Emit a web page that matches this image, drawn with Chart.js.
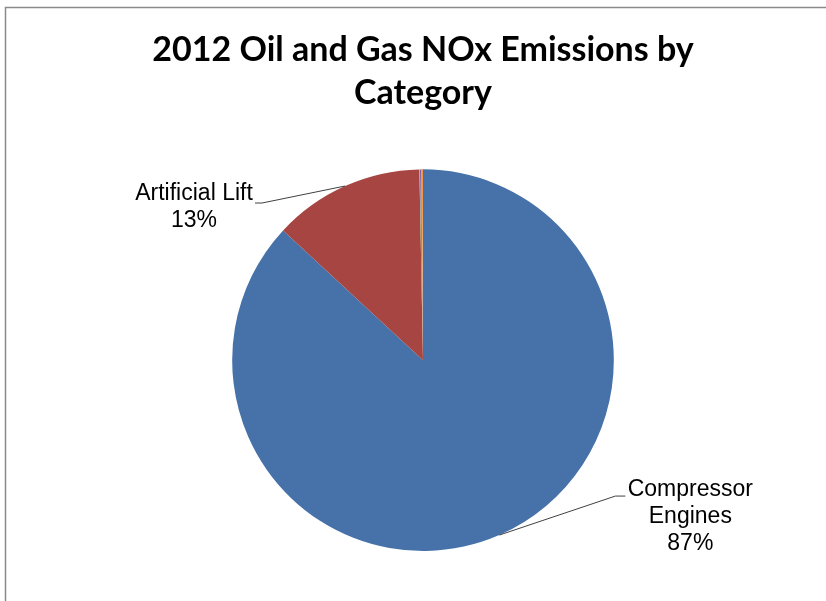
<!DOCTYPE html>
<html>
<head>
<meta charset="utf-8">
<script src="https://cdn.jsdelivr.net/npm/chart.js@4.4.1/dist/chart.umd.min.js"></script>
<style>
  html, body { margin: 0; padding: 0; background: #fff; }
  #wrap { width: 826px; height: 601px; position: relative; }
</style>
</head>
<body>
<div id="wrap"><canvas id="chart"></canvas></div>
<script>
// data
const categories = ['Compressor Engines', 'Artificial Lift', 'Other 1', 'Other 2', 'Other 3', 'Other 4'];
const emissionShare = [86.9, 12.8, 0.05, 0.1, 0.05, 0.1];
const sliceColors = ['#4672A9', '#A64541', '#98B954', '#7D60A0', '#4AA9C4', '#F49545'];
const shownLabels = [0, 1]; // only these have data labels

// where the text sits relative to the point on the slice edge (layout only)
const labelOffsets = {
  0: { elbow: [116, -39], end: [126, -39], text: [191, -18], lines: ['Compressor', 'Engines'] },
  1: { elbow: [-83, 17], end: [-90, 17], text: [-151, 21], lines: ['Artificial Lift'] }
};

const frame = {
  id: 'frame',
  beforeDraw(chart) {
    const ctx = chart.ctx;
    ctx.save();
    ctx.strokeStyle = '#8a8a8a';
    ctx.lineWidth = 1.5;
    ctx.beginPath();
    ctx.moveTo(5.5, 601);
    ctx.lineTo(5.5, 7.5);
    ctx.lineTo(826, 7.5);
    ctx.stroke();
    ctx.restore();
  }
};

const pieLabels = {
  id: 'pieLabels',
  afterDatasetsDraw(chart) {
    const ctx = chart.ctx;
    const meta = chart.getDatasetMeta(0);
    const total = emissionShare.reduce((a, b) => a + b, 0);
    ctx.save();
    ctx.font = '23px "Liberation Sans", Arial, sans-serif';
    ctx.textAlign = 'center';
    ctx.textBaseline = 'middle';
    shownLabels.forEach(i => {
      const arc = meta.data[i];
      const mid = (arc.startAngle + arc.endAngle) / 2;
      const px = arc.x + Math.cos(mid) * arc.outerRadius;
      const py = arc.y + Math.sin(mid) * arc.outerRadius;
      const o = labelOffsets[i];
      // leader line
      ctx.strokeStyle = '#404040';
      ctx.lineWidth = 1;
      ctx.beginPath();
      ctx.moveTo(px, py);
      ctx.lineTo(px + o.elbow[0], py + o.elbow[1]);
      ctx.lineTo(px + o.end[0], py + o.end[1]);
      ctx.stroke();
      // text
      const lines = o.lines.concat([Math.round(emissionShare[i] / total * 100) + '%']);
      const lh = 27;
      const cx = px + o.text[0];
      const cy = py + o.text[1] - (lines.length - 1) * lh / 2;
      ctx.fillStyle = '#000';
      lines.forEach((t, k) => ctx.fillText(t, cx, cy + k * lh));
    });
    ctx.restore();
  }
};

new Chart(document.getElementById('chart'), {
  type: 'pie',
  data: {
    labels: categories,
    datasets: [{
      data: emissionShare,
      backgroundColor: sliceColors,
      borderWidth: 0
    }]
  },
  options: {
    responsive: true,
    maintainAspectRatio: false,
    animation: false,
    layout: { padding: { left: 20, right: 0, top: 0, bottom: 50 } },
    plugins: {
      legend: { display: false },
      tooltip: { enabled: false },
      title: {
        display: true,
        text: ['2012 Oil and Gas NOx Emissions by', 'Category'],
        color: '#000',
        font: { family: 'Lato, "Liberation Sans", sans-serif', size: 34, weight: 'bold', lineHeight: 1.27 },
        padding: { top: 28, bottom: 55 }
      }
    }
  },
  plugins: [frame, pieLabels]
});
</script>
</body>
</html>
